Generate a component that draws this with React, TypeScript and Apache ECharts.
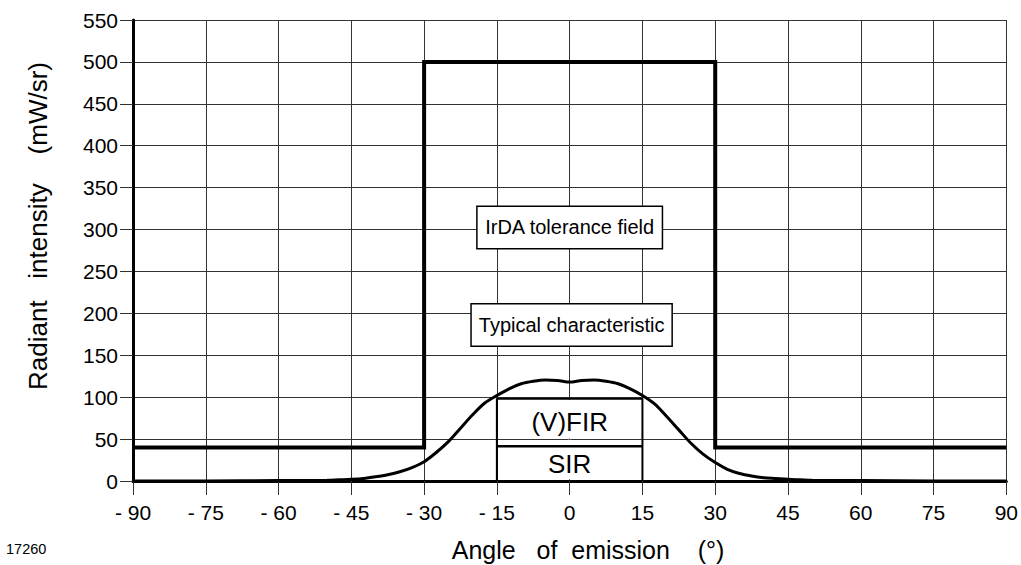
import React, { useEffect, useRef } from "react";
import * as echarts from "echarts";

const FONT = "'Liberation Sans', Arial, Helvetica, sans-serif";

// Tolerance field (IrDA) outline
const tolAngles = [-90, -30, -30, 30, 30, 90];
const tolValues = [40, 40, 500, 500, 40, 40];

// Typical characteristic curve
const curveAngles = [-90, -75, -60, -50, -47.5, -45, -42.5, -40, -37.5, -35, -32.5, -30, -27.5, -25, -22.5, -20, -17.5, -15, -12.5, -10, -7.5, -5, -2.5, 0, 2.5, 5, 7.5, 10, 12.5, 15, 17.5, 20, 22.5, 25, 27.5, 30, 32.5, 35, 37.5, 40, 42.5, 45, 47.5, 50, 60, 75, 90];
const curveValues = [0, 0, 0.5, 1, 1.5, 2, 3, 5, 7.5, 11, 16, 23, 34, 47, 63, 79, 93, 102, 110, 116, 119, 120.5, 120, 118, 120, 120.5, 119, 116, 110, 102, 92, 77, 61, 45, 32, 22, 14, 9, 6, 4, 3, 2, 1.5, 1, 0.5, 0, 0];

// (V)FIR / SIR boxes
const boxAngles = [-15, -15, 15, 15];
const boxValues = [0, 98, 98, 0];
const dividerAngles = [-15, 15];
const dividerValues = [41.5, 41.5];
const maskAngles = [0, 0, 0, 0, 0];
const maskValues: (number | string)[] = [2, 49.2, "-", 50.8, 97];

// Text annotations
const labelTexts = ["IrDA tolerance field", "Typical characteristic"];
const labelAngles = [0, 0.4];
const labelValues = [302.5, 186];
const boxTexts = ["(V)FIR", "SIR"];
const boxTextValues = [70, 20];

// Axis ticks
const xMin = -90, xMax = 90, xStep = 15;
const yMin = 0, yMax = 550, yStep = 50;

const zip = (a: any[], b: any[]) => a.map((v, i) => [v, b[i]]);

export default function App() {
  const ref = useRef<HTMLDivElement>(null);
  useEffect(() => {
    if (!ref.current) return;
    const chart = echarts.init(ref.current, undefined, { renderer: "svg" });
    const gridColor = "#333";
    chart.setOption({
      animation: false,
      backgroundColor: "#fff",
      textStyle: { fontFamily: FONT },
      grid: { left: 133, right: 14, top: 20, bottom: 84, containLabel: false },
      xAxis: {
        type: "value",
        min: xMin,
        max: xMax,
        interval: xStep,
        axisLine: { show: true, onZero: false, lineStyle: { color: "#000", width: 3 } },
        axisTick: { show: true, inside: false, length: 14, lineStyle: { color: gridColor, width: 1 } },
        axisLabel: {
          margin: 21,
          color: "#000",
          fontSize: 21,
          fontFamily: FONT,
          formatter: (v: number) => (v < 0 ? "- " + Math.abs(v) : String(v)),
        },
        splitLine: { show: true, lineStyle: { color: gridColor, width: 1 } },
      },
      yAxis: {
        type: "value",
        min: yMin,
        max: yMax,
        interval: yStep,
        axisLine: { show: true, onZero: false, lineStyle: { color: "#000", width: 3 } },
        axisTick: { show: true, inside: false, length: 13, lineStyle: { color: gridColor, width: 1 } },
        axisLabel: { margin: 15, color: "#000", fontSize: 21, fontFamily: FONT },
        splitLine: { show: true, lineStyle: { color: gridColor, width: 1 } },
      },
      graphic: [
        {
          type: "text",
          x: 588,
          y: 550,
          style: {
            text: "Angle\u00a0\u00a0\u00a0of\u00a0\u00a0emission\u00a0\u00a0\u00a0\u00a0(°)",
            font: `25px ${FONT}`,
            fill: "#000",
            textAlign: "center",
            textVerticalAlign: "middle",
          },
        },
        {
          type: "text",
          x: 38,
          y: 226,
          rotation: Math.PI / 2,
          style: {
            text: "Radiant\u00a0\u00a0\u00a0intensity\u00a0\u00a0\u00a0\u00a0(mW/sr)",
            font: `26px ${FONT}`,
            fill: "#000",
            textAlign: "center",
            textVerticalAlign: "middle",
          },
        },
        {
          type: "text",
          x: 6,
          y: 549,
          style: {
            text: "17260",
            font: `14.5px ${FONT}`,
            fill: "#000",
            textAlign: "left",
            textVerticalAlign: "middle",
          },
        },
      ],
      series: [
        {
          name: "Mask",
          type: "line",
          data: zip(maskAngles, maskValues),
          symbol: "none",
          connectNulls: false,
          lineStyle: { color: "#fff", width: 3 },
          z: 2,
        },
        {
          name: "SIR box",
          type: "line",
          data: zip(boxAngles, boxValues),
          symbol: "none",
          lineStyle: { color: "#000", width: 2 },
          z: 3,
        },
        {
          name: "Divider",
          type: "line",
          data: zip(dividerAngles, dividerValues),
          symbol: "none",
          lineStyle: { color: "#000", width: 2.5 },
          z: 3,
        },
        {
          name: "Typical characteristic",
          type: "line",
          data: zip(curveAngles, curveValues),
          symbol: "none",
          smooth: 0.3,
          lineStyle: { color: "#000", width: 3 },
          z: 4,
        },
        {
          name: "IrDA tolerance field",
          type: "line",
          data: zip(tolAngles, tolValues),
          symbol: "none",
          lineStyle: { color: "#000", width: 4, join: "miter" },
          z: 5,
        },
        {
          name: "Box texts",
          type: "scatter",
          symbolSize: 0,
          itemStyle: { opacity: 1 },
          data: boxTexts.map((t, i) => ({ name: t, value: [0, boxTextValues[i]] })),
          label: {
            show: true,
            position: "inside",
            formatter: "{b}",
            color: "#000",
            opacity: 1,
            fontSize: 26,
            fontFamily: FONT,
          },
          z: 6,
        },
        {
          name: "Annotations",
          type: "scatter",
          symbolSize: 0,
          itemStyle: { opacity: 1 },
          data: labelTexts.map((t, i) => ({ name: t, value: [labelAngles[i], labelValues[i]] })),
          label: {
            show: true,
            position: "inside",
            formatter: "{b}",
            color: "#000",
            opacity: 1,
            fontSize: 20,
            fontFamily: FONT,
            backgroundColor: "#fff",
            borderColor: "#000",
            borderWidth: 1.5,
            padding: [11, 7, 10, 7],
            lineHeight: 20,
          },
          z: 7,
        },
      ],
    });
    return () => chart.dispose();
  }, []);
  return (
    <div
      ref={ref}
      style={{ position: "fixed", left: 0, top: 0, width: 1021, height: 565, background: "#fff" }}
    />
  );
}
